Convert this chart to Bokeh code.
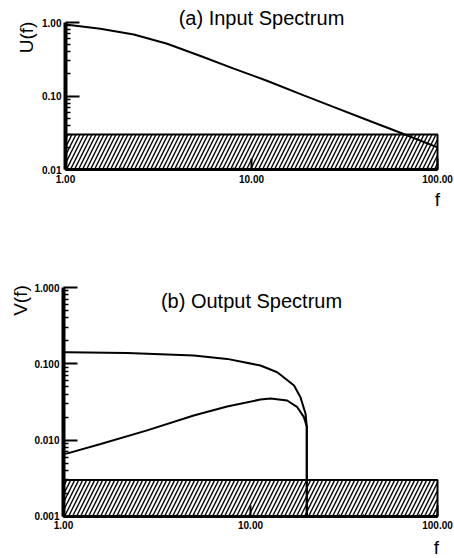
import math
from bokeh.plotting import figure
from bokeh.models import FixedTicker, PrintfTickFormatter, Label
from bokeh.layouts import column
from bokeh.embed import file_html
from bokeh.resources import INLINE

# ---- data ----
u_f = [1.0, 1.54, 2.33, 3.52, 5.32, 8.03, 12.1, 19.1, 28.9, 43.6, 63.2, 100.0]
u_val = [0.94, 0.82, 0.687, 0.513, 0.35, 0.236, 0.161, 0.102, 0.068, 0.0454, 0.0316, 0.020]

v1_f = [1.0, 1.05, 2.19, 4.97, 7.5, 11.3, 13.9, 17.1, 18.5, 19.7, 20.0, 20.0]
v1_val = [0.142, 0.142, 0.139, 0.128, 0.116, 0.095, 0.0776, 0.052, 0.0365, 0.0221, 0.015, 0.001]

v2_f = [1.0, 1.05, 1.58, 2.8, 4.97, 7.5, 11.3, 12.8, 15.7, 17.8, 19.3, 20.0, 20.0]
v2_val = [0.0066, 0.0067, 0.0089, 0.0134, 0.021, 0.0276, 0.034, 0.0351, 0.033, 0.027, 0.020, 0.015, 0.001]

noise_top_a = 0.03
noise_top_b = 0.003
f_min, f_max = 1.0, 100.0
ya_min, ya_max = 0.01, 1.0
yb_min, yb_max = 0.001, 1.0

x_ticks = [1, 10, 100]
x_minor = [m * d for d in (1, 10) for m in range(2, 10)]
ya_ticks = [0.01, 0.1, 1.0]
ya_minor = [m * d for d in (0.01, 0.1) for m in range(2, 10)]
yb_ticks = [0.001, 0.01, 0.1, 1.0]
yb_minor = [m * d for d in (0.001, 0.01, 0.1) for m in range(2, 10)]

FONT = "Liberation Sans"
W = 454
H1 = 215
H2 = 558 - H1


class PixMap:
    """Pixel layout of one panel: where f=1 and the top decade sit, and px per decade."""
    def __init__(self, top_px, x0, dx, y0, dy, h):
        self.top, self.x0, self.dx, self.y0, self.dy, self.h = top_px, x0, dx, y0, dy, h

    def fx(self, px):
        return 10 ** ((px - self.x0) / self.dx)

    def vy(self, py, ytop):
        return ytop * 10 ** (-(py - self.y0) / self.dy)

    def xrange(self):
        return (self.fx(0), self.fx(W))

    def yrange(self, ytop):
        return (self.vy(self.top + self.h, ytop), self.vy(self.top, ytop))


def style_axes(p, yfmt, xticks, yticks, ybounds):
    xa = p.xaxis[0]
    ya = p.yaxis[0]
    for ax in (xa, ya):
        ax.axis_line_color = "black"
        ax.major_tick_line_color = "black"
        ax.minor_tick_line_color = "black"
        ax.major_tick_out = 0
        ax.minor_tick_out = 0
        ax.major_tick_line_width = 2
        ax.minor_tick_line_width = 1.5
        ax.major_label_text_font = FONT
        ax.major_label_text_font_style = "bold"
        ax.major_label_text_font_size = "10px"
        ax.major_label_text_color = "black"
    xa.axis_line_width = 3
    ya.axis_line_width = 4
    xa.major_tick_in = 11
    xa.minor_tick_in = 2
    ya.major_tick_in = 14
    ya.minor_tick_in = 5
    xa.major_label_standoff = 5
    ya.major_label_standoff = 4
    xa.formatter = PrintfTickFormatter(format="%.2f")
    ya.formatter = PrintfTickFormatter(format=yfmt)
    xa.ticker = xticks
    ya.ticker = yticks
    xa.bounds = (f_min, f_max)
    ya.bounds = ybounds
    xa.fixed_location = ybounds[0]
    ya.fixed_location = f_min
    p.grid.visible = False
    p.outline_line_color = None
    p.background_fill_color = "white"
    p.border_fill_color = "white"


def txt(p, x, y, s, size="19px", angle=0.0):
    p.add_layout(Label(x=x, y=y, text=s, angle=angle,
                       text_align="center", text_baseline="middle",
                       text_font=FONT, text_font_size=size, text_color="black"))


HATCH = dict(fill_color=None, line_color="black", line_width=2,
             hatch_pattern="/", hatch_color="black", hatch_weight=1.4, hatch_scale=8)

# ---- (a) Input spectrum ----
ma = PixMap(top_px=0, x0=65, dx=186, y0=22, dy=73.5, h=H1)
pa = figure(width=W, height=H1, x_axis_type="log", y_axis_type="log",
            x_range=ma.xrange(), y_range=ma.yrange(ya_max),
            output_backend="svg", toolbar_location=None,
            min_border=0, min_border_left=0, min_border_right=0,
            min_border_top=0, min_border_bottom=0)
style_axes(pa, "%.2f",
           FixedTicker(ticks=x_ticks, minor_ticks=x_minor),
           FixedTicker(ticks=ya_ticks, minor_ticks=ya_minor),
           (ya_min, ya_max))

pa.quad(left=[f_min], right=[f_max], bottom=[ya_min], top=[noise_top_a], **HATCH)
pa.line(u_f, u_val, line_color="black", line_width=2)

txt(pa, ma.fx(26), ma.vy(37, ya_max), "U(f)", angle=math.pi / 2)
txt(pa, ma.fx(261), ma.vy(17, ya_max), "(a) Input Spectrum", size="20px")
txt(pa, ma.fx(437), ma.vy(199, ya_max), "f")

# ---- (b) Output spectrum ----
mb = PixMap(top_px=H1, x0=63, dx=187, y0=287, dy=76.3, h=H2)
pb = figure(width=W, height=H2, x_axis_type="log", y_axis_type="log",
            x_range=mb.xrange(), y_range=mb.yrange(yb_max),
            output_backend="svg", toolbar_location=None,
            min_border=0, min_border_left=0, min_border_right=0,
            min_border_top=0, min_border_bottom=0)
style_axes(pb, "%.3f",
           FixedTicker(ticks=x_ticks, minor_ticks=x_minor),
           FixedTicker(ticks=yb_ticks, minor_ticks=yb_minor),
           (yb_min, yb_max))

pb.quad(left=[f_min], right=[f_max], bottom=[yb_min], top=[noise_top_b], **HATCH)
pb.line(v1_f, v1_val, line_color="black", line_width=2)
pb.line(v2_f, v2_val, line_color="black", line_width=2)

txt(pb, mb.fx(20), mb.vy(300, yb_max), "V(f)", angle=math.pi / 2)
txt(pb, mb.fx(251), mb.vy(300, yb_max), "(b) Output Spectrum", size="20px")
txt(pb, mb.fx(436), mb.vy(547, yb_max), "f")

layout = column(pa, pb, spacing=0)
open("out.html", "w").write(file_html(layout, INLINE))
